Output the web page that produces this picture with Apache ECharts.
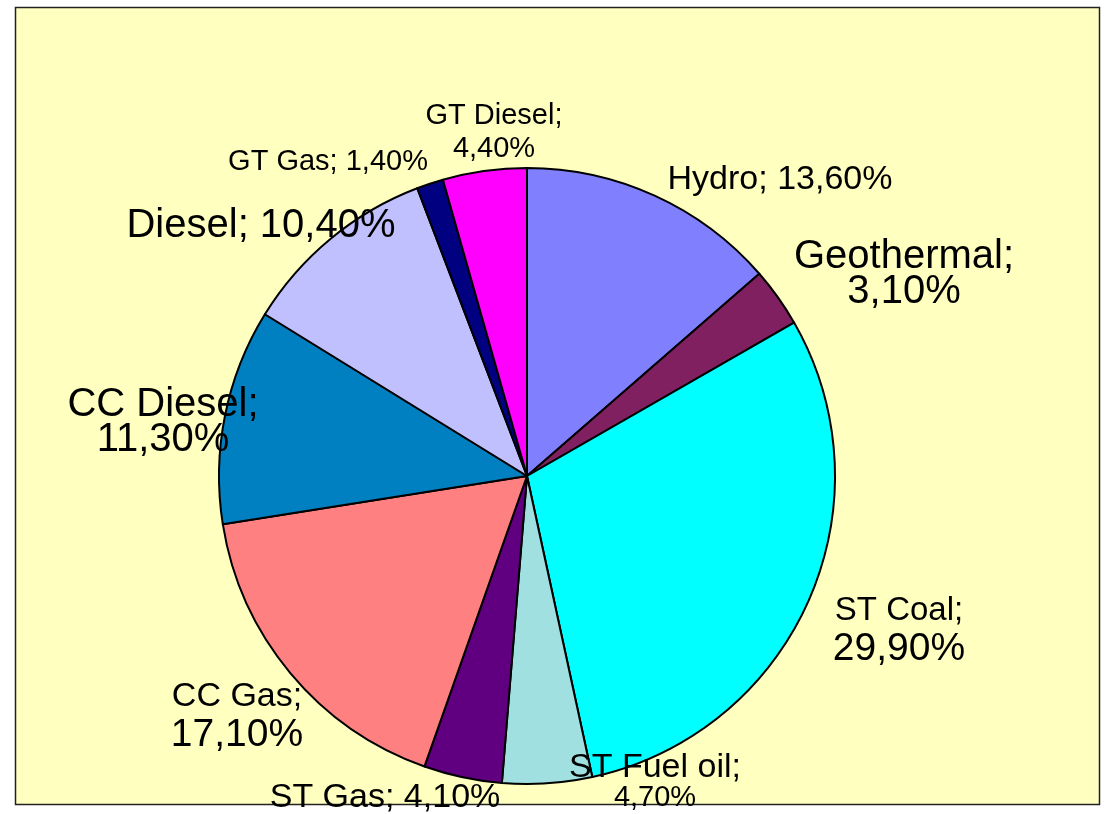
<!DOCTYPE html>
<html>
<head>
<meta charset="utf-8">
<script src="https://cdn.jsdelivr.net/npm/echarts@6/dist/echarts.min.js"></script>
<style>
html,body{margin:0;padding:0;background:#fff;}
#c{width:1104px;height:814px;}
</style>
</head>
<body>
<div id="c"></div>
<script>
// ---- data ----
var categories = ['Hydro', 'Geothermal', 'ST Coal', 'ST Fuel oil', 'ST Gas', 'CC Gas', 'CC Diesel', 'Diesel', 'GT Gas', 'GT Diesel'];
var values = [13.6, 3.1, 29.9, 4.7, 4.1, 17.1, 11.3, 10.4, 1.4, 4.4];

// ---- styles / layout ----
var colors = ['#8080FF', '#802060', '#00FFFF', '#A0E0E0', '#600080', '#FF8080', '#0080C0', '#C0C0FF', '#000080', '#FF00FF'];
// label break between name and value: true = two lines
var twoLine = [false, true, true, true, false, true, true, false, false, true];
// [name font size, value font size, line height]
var labelFont = [[34, 34, 36], [40, 40, 35], [33, 39, 39], [34, 29, 30], [34, 34, 36], [34, 39, 39], [40, 40, 35], [40, 40, 42], [29, 29, 30], [29, 29, 33]];
var labelPos = [[780, 180], [904, 274], [899, 630], [655, 783], [385, 798], [237, 716], [163, 422], [261, 226], [328, 162], [494, 132]];

function fmt(v) {
  return v.toFixed(2).replace('.', ',') + '%';
}

var FONT = 'Liberation Sans, Arial, sans-serif';
var data = categories.map(function (name, i) {
  var f = labelFont[i];
  var text = twoLine[i]
    ? '{a|' + name + ';}\n{b|' + fmt(values[i]) + '}'
    : '{a|' + name + '; ' + fmt(values[i]) + '}';
  return {
    name: name,
    value: values[i],
    itemStyle: { color: colors[i] },
    label: {
      formatter: text,
      rich: {
        a: { fontSize: f[0], lineHeight: f[2], color: '#000', fontFamily: FONT },
        b: { fontSize: f[1], lineHeight: f[2], color: '#000', fontFamily: FONT }
      }
    }
  };
});

var chart = echarts.init(document.getElementById('c'), null, { renderer: 'canvas' });
chart.setOption({
  backgroundColor: '#ffffff',
  animation: false,
  graphic: [{
    type: 'rect',
    z: -10,
    shape: { x: 15.5, y: 7.5, width: 1084, height: 797 },
    style: { fill: '#FFFFC0', stroke: '#222', lineWidth: 1.5 }
  }],
  series: [{
    type: 'pie',
    center: [527, 476],
    radius: [0, 308],
    startAngle: 90,
    clockwise: true,
    avoidLabelOverlap: false,
    itemStyle: { borderColor: '#000', borderWidth: 2 },
    label: {
      show: true,
      position: 'outside',
      color: '#000',
      fontFamily: FONT,
      textBorderWidth: 0
    },
    labelLine: { show: false },
    labelLayout: function (params) {
      var p = labelPos[params.dataIndex];
      return { x: p[0], y: p[1], align: 'center', verticalAlign: 'middle', hideOverlap: false };
    },
    emphasis: { disabled: true },
    data: data
  }]
});
</script>
</body>
</html>
